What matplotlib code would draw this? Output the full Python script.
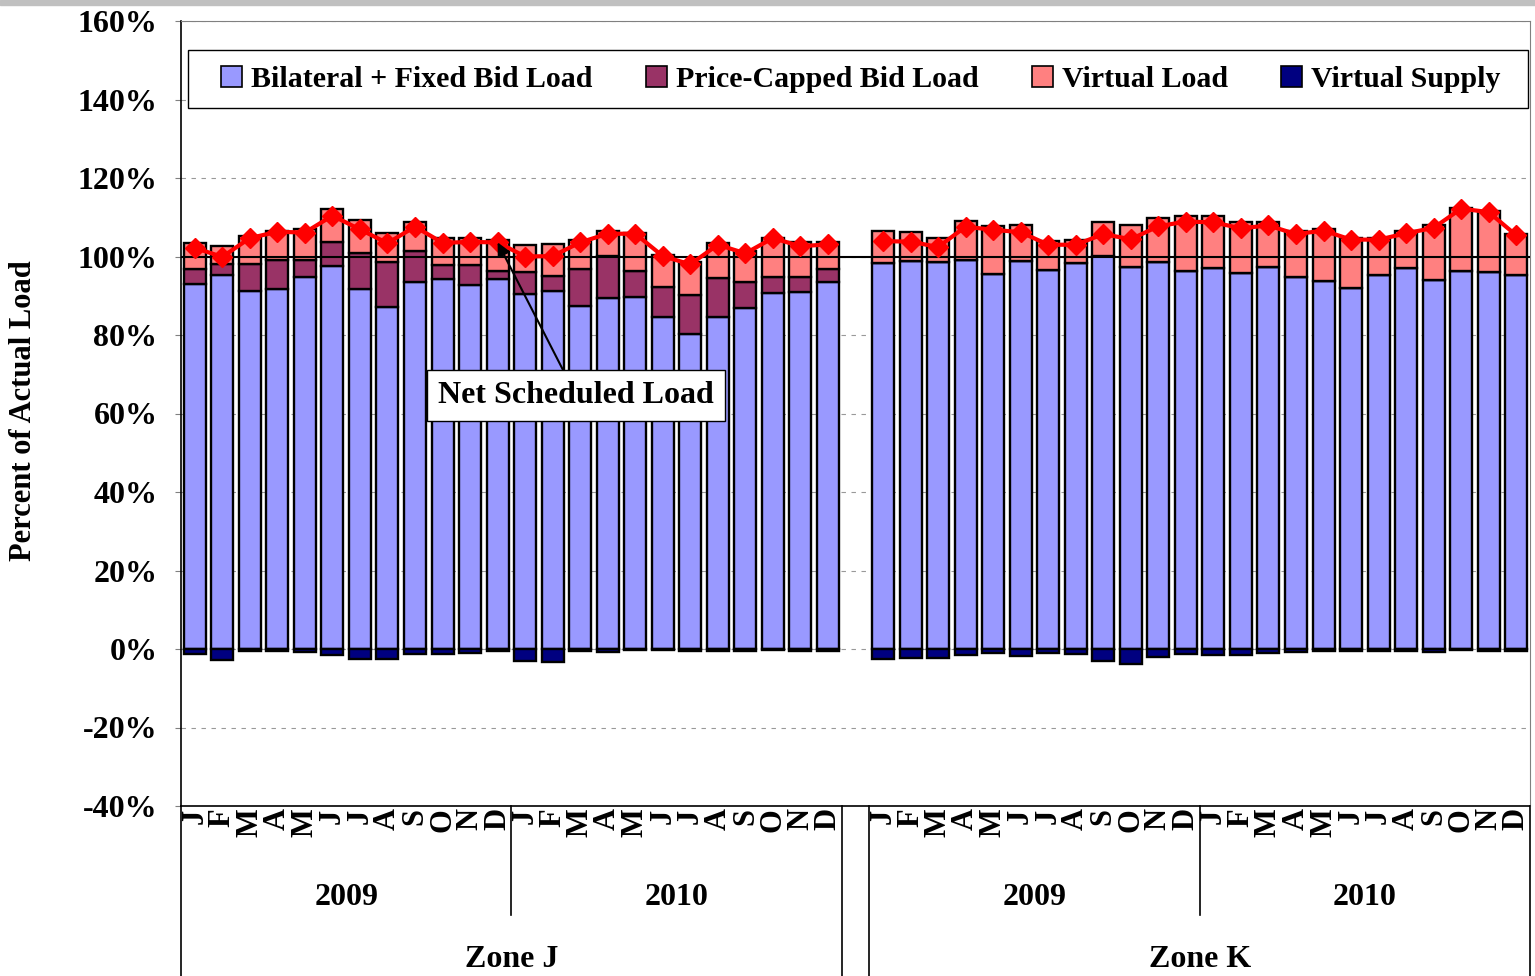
import matplotlib
matplotlib.use('Agg')
import matplotlib.pyplot as plt
import numpy as np
from matplotlib.patches import Patch, Rectangle
from matplotlib.transforms import blended_transform_factory

plt.rcParams['font.family'] = ['Liberation Serif', 'DejaVu Serif']
plt.rcParams['font.weight'] = 'bold'

months = list('JFMAMJJASOND')
years = ['2009', '2010']
zones = ['Zone J', 'Zone K']

# percent of actual load, Jan 2009 .. Dec 2010
zone_j_bilateral = [93.0, 95.4, 91.2, 91.8, 94.9, 97.6, 91.8, 87.1, 93.5, 94.3, 92.8, 94.2,
                    90.5, 91.1, 87.3, 89.5, 89.6, 84.7, 80.2, 84.7, 87.0, 90.7, 90.9, 93.4]
zone_j_capped = [3.7, 2.6, 6.8, 7.2, 4.1, 6.2, 9.1, 11.4, 7.9, 3.5, 5.0, 2.2,
                 5.5, 3.9, 9.6, 10.6, 6.6, 7.6, 9.9, 9.9, 6.5, 4.2, 3.9, 3.4]
zone_j_virtual_load = [6.8, 4.6, 7.3, 7.6, 7.9, 8.2, 8.5, 7.5, 7.5, 6.9, 6.9, 7.8,
                       7.0, 8.3, 7.3, 6.4, 9.8, 8.1, 8.4, 8.9, 7.8, 9.9, 8.8, 6.8]
zone_j_virtual_supply = [-1.3, -2.7, -0.6, -0.4, -0.8, -1.6, -2.5, -2.6, -1.3, -1.2, -1.0, -0.6,
                         -3.0, -3.2, -0.6, -0.7, -0.3, -0.3, -0.5, -0.5, -0.5, -0.2, -0.6, -0.5]
zone_j_net = [102.2, 99.9, 104.7, 106.3, 106.1, 110.4, 106.9, 103.4, 107.6, 103.5, 103.7, 103.6,
              100.0, 100.1, 103.6, 105.8, 105.8, 100.1, 98.0, 103.0, 100.8, 104.7, 102.6, 103.1]

zone_k_bilateral = [98.4, 98.9, 98.5, 99.2, 95.5, 98.9, 96.6, 98.3, 100.2, 97.4, 98.5, 96.4,
                    97.0, 95.8, 97.2, 94.9, 93.7, 91.9, 95.3, 97.0, 94.1, 96.2, 96.0, 95.4]
zone_k_capped = [0.0] * 24
zone_k_virtual_load = [8.1, 7.3, 6.2, 9.9, 12.2, 9.0, 7.3, 5.9, 8.5, 10.7, 11.2, 13.9,
                       13.3, 12.9, 11.7, 11.5, 13.3, 12.8, 9.4, 9.4, 14.0, 16.1, 15.7, 10.4]
zone_k_virtual_supply = [-2.6, -2.4, -2.3, -1.5, -0.9, -1.7, -0.9, -1.2, -3.0, -3.7, -2.0, -1.4,
                         -1.6, -1.5, -1.0, -0.7, -0.4, -0.4, -0.4, -0.5, -0.8, -0.2, -0.4, -0.4]
zone_k_net = [103.9, 103.8, 102.4, 107.6, 106.8, 106.2, 103.0, 103.0, 105.7, 104.4, 107.7, 108.9,
              108.7, 107.2, 107.9, 105.7, 106.6, 104.3, 104.3, 105.9, 107.3, 112.2, 111.3, 105.4]

c_bil = '#9999FF'
c_cap = '#993366'
c_vl = '#FF8080'
c_vs = '#000080'

FS = 23

fig = plt.figure(figsize=(15.35, 9.76), dpi=100)
fig.patches.append(Rectangle((0, 1 - 5 / 976), 1, 5 / 976, transform=fig.transFigure,
                             color='#c0c0c0', zorder=0))
ax = fig.add_axes([181 / 1535, 170 / 976, 1349 / 1535, 785 / 976])

xj = np.arange(24)
xk = np.arange(25, 49)
x = np.concatenate([xj, xk])
bil = np.array(zone_j_bilateral + zone_k_bilateral)
cap = np.array(zone_j_capped + zone_k_capped)
vl = np.array(zone_j_virtual_load + zone_k_virtual_load)
vs = np.array(zone_j_virtual_supply + zone_k_virtual_supply)

bw = 0.8
kw = dict(width=bw, edgecolor='black', linewidth=1.7, zorder=3)
ax.bar(x, bil, color=c_bil, **kw)
ax.bar(x, cap, bottom=bil, color=c_cap, **kw)
ax.bar(x, vl, bottom=bil + cap, color=c_vl, **kw)
ax.bar(x, vs, color=c_vs, **kw)

ax.axhline(100, color='black', lw=1.5, zorder=4)
for xx, yy in ((xj, zone_j_net), (xk, zone_k_net)):
    ax.plot(xx, yy, color='red', lw=3, marker='D', ms=10, zorder=5)

ax.set_xlim(-0.5, 48.5)
ax.set_ylim(-40, 160)
ax.set_yticks(range(-40, 161, 20))
ax.set_yticklabels([f'{v}%' for v in range(-40, 161, 20)], fontsize=FS, fontweight='bold')
ax.set_xticks([])
ax.tick_params(axis='y', length=4, color='#808080', pad=13)
ax.yaxis.grid(True, linestyle=(0, (4, 5)), color='#999999', lw=0.8)
ax.set_axisbelow(True)
for s in ('top', 'right'):
    ax.spines[s].set_color('#808080')
for s in ('left', 'bottom'):
    ax.spines[s].set_color('black')
    ax.spines[s].set_linewidth(1.2)

ax.set_ylabel('Percent of Actual Load', fontsize=22, fontweight='bold')
ax.yaxis.set_label_coords(-0.106, 0.504)

# category axis: months, years, zones with separators
tr = blended_transform_factory(ax.transData, ax.transAxes)
for xi, m in zip(x, months * 4):
    ax.text(xi, -0.003, m, rotation=90, ha='center', va='top', transform=tr,
            fontsize=22, fontweight='bold')
bottom = -170 / 785
for zi, zone in enumerate(zones):
    start = zi * 25
    for yi, yr in enumerate(years):
        ax.text(start + yi * 12 + 5.5, -0.116, yr, ha='center', va='center', transform=tr,
                fontsize=FS, fontweight='bold')
    ax.text(start + 11.5, -0.195, zone, ha='center', va='center', transform=tr,
            fontsize=FS, fontweight='bold')
    ax.plot([start + 11.5] * 2, [0, -0.139], color='black', lw=1.2, transform=tr, clip_on=False)
for xb in (-0.5, 23.5, 24.5, 48.5):
    ax.plot([xb, xb], [0, bottom], color='black', lw=1.2, transform=tr, clip_on=False)

# legend frame drawn separately so the entries can sit inset from it
ax.add_patch(Rectangle((0.005, 0.889), 0.9935, 0.074, transform=ax.transAxes,
                       fc='white', ec='black', lw=1.0, zorder=6))
handles = [Patch(facecolor=c, edgecolor='black', linewidth=1.2) for c in (c_bil, c_cap, c_vl, c_vs)]
labels = ['Bilateral + Fixed Bid Load', 'Price-Capped Bid Load', 'Virtual Load', 'Virtual Supply']
leg = ax.legend(handles, labels, loc='center', bbox_to_anchor=(0.0297, 0.889, 0.9486, 0.074),
                mode='expand', ncol=4, frameon=False, borderpad=0, borderaxespad=0,
                handlelength=0.7, handleheight=0.7, handletextpad=0.3,
                prop={'weight': 'bold', 'size': 21.5})
leg.set_zorder(7)

ax.annotate('Net Scheduled Load', xy=(11, zone_j_net[11]), xytext=(13.85, 64.6),
            ha='center', va='center', fontsize=FS, fontweight='bold', zorder=6,
            bbox=dict(boxstyle='square,pad=0.35', fc='white', ec='black', lw=1),
            arrowprops=dict(arrowstyle='-|>', color='black', lw=1.5, mutation_scale=20,
                            shrinkA=0, shrinkB=0))

fig.savefig('out.png', dpi=100)
